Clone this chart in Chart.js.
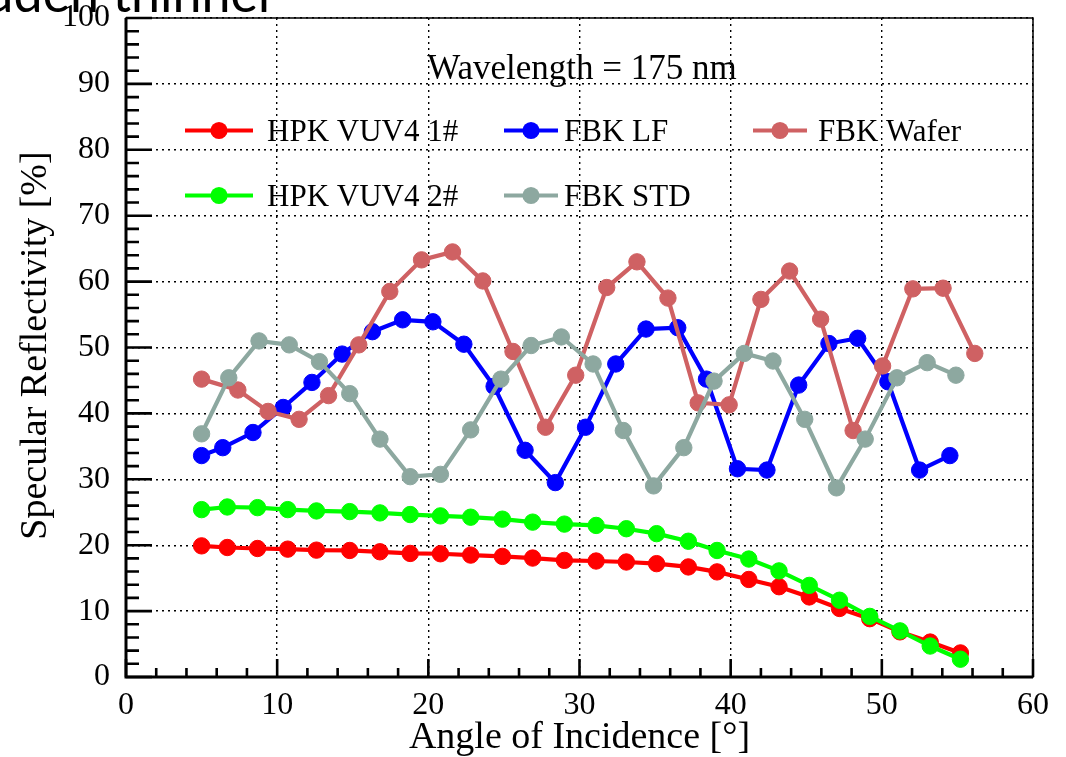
<!DOCTYPE html>
<html>
<head>
<meta charset="utf-8">
<script src="https://cdn.jsdelivr.net/npm/chart.js@4"></script>
<style>
  html, body { margin: 0; padding: 0; background: #fff; }
</style>
</head>
<body>
<canvas id="reflectivity" width="1066" height="757"></canvas>
<script>
// angles of incidence [deg] and specular reflectivity [%]
const hpkAngle = [5.0, 6.7, 8.7, 10.7, 12.6, 14.8, 16.8, 18.8, 20.8, 22.8, 24.9, 26.9, 29.0, 31.1, 33.1, 35.1, 37.2, 39.1, 41.2, 43.2, 45.2, 47.2, 49.2, 51.2, 53.2, 55.2];
const hpk1Refl = [19.9, 19.65, 19.5, 19.4, 19.25, 19.2, 19.0, 18.75, 18.7, 18.5, 18.3, 18.05, 17.7, 17.6, 17.45, 17.2, 16.7, 15.95, 14.8, 13.7, 12.15, 10.4, 8.85, 6.85, 5.3, 3.65];
const hpk2Refl = [25.4, 25.8, 25.7, 25.4, 25.2, 25.1, 24.9, 24.65, 24.45, 24.25, 23.95, 23.5, 23.2, 23.0, 22.5, 21.75, 20.6, 19.2, 17.9, 16.1, 13.9, 11.65, 9.2, 7.0, 4.7, 2.7];

const lfAngle = [5.0, 6.4, 8.4, 10.4, 12.3, 14.3, 16.3, 18.3, 20.3, 22.35, 24.35, 26.4, 28.4, 30.4, 32.4, 34.4, 36.5, 38.4, 40.45, 42.4, 44.5, 46.5, 48.4, 50.4, 52.5, 54.5];
const lfRefl = [33.6, 34.8, 37.1, 40.9, 44.7, 49.0, 52.4, 54.2, 53.9, 50.5, 44.1, 34.4, 29.5, 37.9, 47.5, 52.8, 53.0, 45.2, 31.6, 31.4, 44.3, 50.6, 51.4, 44.8, 31.4, 33.6];

const stdAngle = [5.0, 6.8, 8.8, 10.8, 12.8, 14.8, 16.8, 18.8, 20.8, 22.8, 24.8, 26.8, 28.8, 30.9, 32.9, 34.9, 36.9, 38.9, 40.9, 42.8, 44.9, 47.0, 48.9, 51.0, 53.0, 54.9];
const stdRefl = [36.9, 45.4, 51.0, 50.4, 47.85, 43.0, 36.1, 30.4, 30.75, 37.5, 45.2, 50.3, 51.6, 47.5, 37.4, 29.0, 34.8, 44.9, 49.1, 47.95, 39.1, 28.7, 36.1, 45.4, 47.7, 45.8];

const waferAngle = [5.0, 7.4, 9.4, 11.45, 13.4, 15.4, 17.45, 19.55, 21.6, 23.6, 25.6, 27.75, 29.75, 31.8, 33.8, 35.85, 37.85, 39.9, 42.0, 43.9, 45.95, 48.1, 50.05, 52.05, 54.05, 56.15];
const waferRefl = [45.2, 43.55, 40.3, 39.1, 42.7, 50.4, 58.5, 63.3, 64.5, 60.1, 49.4, 37.9, 45.8, 59.1, 63.0, 57.5, 41.6, 41.3, 57.3, 61.6, 54.3, 37.4, 47.2, 58.9, 59.0, 49.1];

const xRange = [0, 60];
const yRange = [0, 100];
const majorStep = 10;
const minorStep = 2;

const serif = '"Liberation Serif", "Times New Roman", serif';

const pts = (xs, ys) => xs.map((x, i) => ({ x: x, y: ys[i] }));

function series(label, xs, ys, color, order) {
  return {
    label: label,
    data: pts(xs, ys),
    borderColor: color,
    backgroundColor: color,
    pointBackgroundColor: color,
    pointBorderColor: color,
    pointRadius: 8.2,
    pointBorderWidth: 1,
    pointHoverRadius: 8.2,
    borderWidth: 4.2,
    tension: 0,
    order: order,
    clip: false
  };
}

// legend slots: [dataset index, column, row]
const legendSlots = [[0, 0, 0], [2, 1, 0], [4, 2, 0], [1, 0, 1], [3, 1, 1]];
const legendCols = [
  { marker: 219, half: 34, text: 267 },
  { marker: 531, half: 27, text: 564 },
  { marker: 780, half: 27, text: 818 }
];
const legendRows = [130.5, 195.5];

const rootStyle = {
  id: 'rootStyle',
  afterDatasetsDraw(chart) {
    const ctx = chart.ctx;
    const a = chart.chartArea;
    const x = chart.scales.x, y = chart.scales.y;
    ctx.save();

    // frame
    ctx.strokeStyle = '#000';
    ctx.lineWidth = 1.5;
    ctx.strokeRect(a.left, a.top, a.right - a.left, a.bottom - a.top);
    ctx.lineWidth = 3;
    ctx.beginPath();
    ctx.moveTo(a.left, a.top);
    ctx.lineTo(a.left, a.bottom);
    ctx.lineTo(a.right, a.bottom);
    ctx.stroke();

    // inward ticks like ROOT
    ctx.lineWidth = 2.6;
    ctx.beginPath();
    for (let v = xRange[0]; v <= xRange[1]; v += minorStep) {
      const px = x.getPixelForValue(v);
      const len = v % majorStep === 0 ? 18 : 9;
      ctx.moveTo(px, a.bottom);
      ctx.lineTo(px, a.bottom - len);
    }
    for (let v = yRange[0]; v <= yRange[1]; v += minorStep) {
      const py = y.getPixelForValue(v);
      const len = v % majorStep === 0 ? 26 : 13;
      ctx.moveTo(a.left, py);
      ctx.lineTo(a.left + len, py);
    }
    ctx.stroke();

    // legend
    ctx.font = '31px ' + serif;
    ctx.textBaseline = 'middle';
    ctx.textAlign = 'left';
    legendSlots.forEach(([di, c, r]) => {
      const ds = chart.data.datasets[di];
      const col = legendCols[c];
      const ly = legendRows[r];
      ctx.strokeStyle = ds.borderColor;
      ctx.lineWidth = 4.2;
      ctx.beginPath();
      ctx.moveTo(col.marker - col.half, ly);
      ctx.lineTo(col.marker + col.half, ly);
      ctx.stroke();
      ctx.fillStyle = ds.borderColor;
      ctx.beginPath();
      ctx.arc(col.marker, ly, 8.6, 0, Math.PI * 2);
      ctx.fill();
      ctx.fillStyle = '#000';
      ctx.fillText(ds.label, col.text, ly + 2);
    });

    // annotation
    ctx.font = '35px ' + serif;
    ctx.textAlign = 'center';
    ctx.textBaseline = 'alphabetic';
    ctx.fillText('Wavelength = 175 nm', 582, 79);

    // axis titles
    ctx.font = '38px ' + serif;
    ctx.fillText('Angle of Incidence [\u00b0]', (a.left + a.right) / 2, 748);
    ctx.save();
    ctx.translate(46, 345.5);
    ctx.rotate(-Math.PI / 2);
    ctx.fillText('Specular Reflectivity [%]', 0, 0);
    ctx.restore();

    // clipped slide text above the plot
    ctx.font = '52px Lato, "Open Sans", sans-serif';
    ctx.textAlign = 'right';
    ctx.fillText('uden thinner', 277, 12);

    ctx.restore();
  }
};

new Chart(document.getElementById('reflectivity'), {
  type: 'line',
  data: {
    datasets: [
      series('HPK VUV4 1#', hpkAngle, hpk1Refl, '#ff0000', 4),
      series('HPK VUV4 2#', hpkAngle, hpk2Refl, '#00ff00', 3),
      series('FBK LF', lfAngle, lfRefl, '#0000ff', 2),
      series('FBK STD', stdAngle, stdRefl, '#8da8a0', 0),
      series('FBK Wafer', waferAngle, waferRefl, '#cf6163', 1)
    ]
  },
  options: {
    responsive: false,
    animation: false,
    events: [],
    layout: { padding: { top: 18, right: 33, left: 0, bottom: 0 } },
    plugins: { legend: { display: false }, tooltip: { enabled: false } },
    scales: {
      x: {
        type: 'linear',
        min: xRange[0],
        max: xRange[1],
        border: { display: false, dash: [2, 4] },
        grid: { color: '#000', lineWidth: 1.4, drawTicks: false },
        ticks: { stepSize: majorStep, color: '#000', padding: 9, font: { family: serif, size: 32 } },
        afterFit(scale) { scale.height = 80; scale.paddingLeft = 0; scale.paddingRight = 0; }
      },
      y: {
        min: yRange[0],
        max: yRange[1],
        border: { display: false, dash: [2, 4] },
        grid: { color: '#000', lineWidth: 1.4, drawTicks: false },
        ticks: { stepSize: majorStep, color: '#000', padding: 16, font: { family: serif, size: 32 } },
        afterFit(scale) { scale.width = 126; scale.paddingTop = 0; scale.paddingBottom = 0; }
      }
    }
  },
  plugins: [rootStyle]
});
</script>
</body>
</html>
